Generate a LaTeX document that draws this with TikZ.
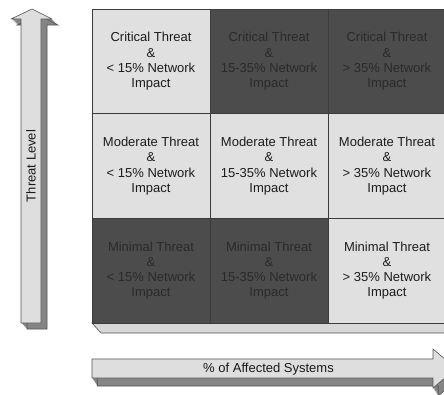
\documentclass[tikz,border=0pt]{standalone}
\usepackage{fontspec}
\setmainfont{Liberation Sans}
\definecolor{cellLight}{HTML}{E0E0E0}
\definecolor{cellDark}{HTML}{4C4C4C}
\definecolor{txtLight}{HTML}{1C1C1C}
\definecolor{txtDark}{HTML}{2A2A2A}
\definecolor{gridLine}{HTML}{3C3C3C}
\definecolor{faceFront}{HTML}{DEDEDE}
\definecolor{faceSide}{HTML}{858585}
\definecolor{edgeGray}{HTML}{555555}
\definecolor{slabFace}{HTML}{D8D8D8}
\tikzset{
  cell/.style={draw=gridLine, line width=0.8pt, minimum width=118pt, minimum height=104.67pt,
    inner sep=0pt, align=center, font=\fontsize{13}{15.3}\selectfont},
  lightcell/.style={cell, fill=cellLight, text=txtLight},
  darkcell/.style={cell, fill=cellDark, text=txtDark},
  axislabel/.style={font=\fontsize{13}{15}\selectfont, text=black!90, inner sep=0pt},
  front/.style={fill=faceFront, draw=edgeGray, line width=0.6pt, line join=round},
  side/.style={fill=faceSide, draw=faceSide, line width=0.6pt},
}
\begin{document}
\begin{tikzpicture}[x=1pt,y=-1pt]
\useasboundingbox (0,0) rectangle (444,394);
\fill[white] (0,0) rectangle (444,394);
\clip (0,0) rectangle (444,394);

% vertical arrow (threat level), extruded towards the lower right
\def\vshape{(21,323) -- (21,19) -- (11,19) -- (32,9) -- (52,19) -- (41,19) -- (41,323) -- cycle}
\foreach \k in {1,2,...,6}{
  \fill[faceSide, shift={(\k,\k)}] \vshape;
}
\draw[edgeGray, line width=0.6pt, shift={(6,6)}] \vshape;
\path[front] \vshape;
\node[axislabel, rotate=90] (ylabel) at (31,166) {Threat Level};

% horizontal arrow (affected systems)
\def\hshape{(92,359) -- (433,359) -- (433,349) -- (456,368.5) -- (433,388) -- (433,378) -- (92,378) -- cycle}
\foreach \k in {1,2,...,8}{
  \fill[faceSide, shift={(\k*0.65,\k)}] \hshape;
}
\draw[edgeGray, line width=0.6pt, shift={(5.2,8)}] \hshape;
\path[front] \hshape;
\node[axislabel] (xlabel) at (268.5,369) {\% of Affected Systems};

% base slab under the matrix
\path[fill=slabFace, draw=edgeGray, line width=0.6pt] (92,323) -- (450,323) -- (450,333) -- (101,333) -- cycle;

% 3x3 matrix of threat / impact combinations
\node[lightcell] (c11) at (151,61.33)  {Critical Threat\\\&\\< 15\% Network\\Impact};
\node[darkcell]  (c12) at (269,61.33)  {Critical Threat\\\&\\15-35\% Network\\Impact};
\node[darkcell]  (c13) at (387,61.33)  {Critical Threat\\\&\\> 35\% Network\\Impact};
\node[lightcell] (c21) at (151,166)    {Moderate Threat\\\&\\< 15\% Network\\Impact};
\node[lightcell] (c22) at (269,166)    {Moderate Threat\\\&\\15-35\% Network\\Impact};
\node[lightcell] (c23) at (387,166)    {Moderate Threat\\\&\\> 35\% Network\\Impact};
\node[darkcell]  (c31) at (151,270.67) {Minimal Threat\\\&\\< 15\% Network\\Impact};
\node[darkcell]  (c32) at (269,270.67) {Minimal Threat\\\&\\15-35\% Network\\Impact};
\node[lightcell] (c33) at (387,270.67) {Minimal Threat\\\&\\> 35\% Network\\Impact};
\end{tikzpicture}
\end{document}
